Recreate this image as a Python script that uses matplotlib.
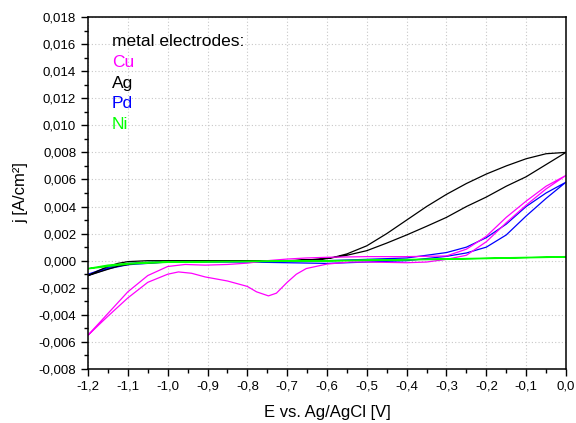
import matplotlib.pyplot as plt
from matplotlib.ticker import MultipleLocator, FuncFormatter

plt.rcParams['font.family'] = 'Liberation Sans'
plt.rcParams['axes.unicode_minus'] = False

# Cu: forward sweep (E increasing) and reverse sweep (E decreasing, with the reduction dip)
cu_fwd_E = [-1.2, -1.15, -1.1, -1.05, -1.0, -0.956, -0.906, -0.85, -0.8, -0.75, -0.7, -0.652,
            -0.6, -0.5, -0.4, -0.3, -0.25, -0.2, -0.15, -0.1, -0.05, 0.0]
cu_fwd_j = [-0.0055, -0.0039, -0.0023, -0.0011, -0.00043, -0.00028, -0.00033, -0.00028, -0.00018,
            0.0, 0.00012, 0.0002, 0.00025, 0.0003, 0.0003, 0.00035, 0.00085, 0.0018, 0.0032,
            0.0044, 0.0055, 0.0063]
cu_rev_E = [0.0, -0.05, -0.1, -0.15, -0.2, -0.25, -0.3, -0.35, -0.4, -0.5, -0.542, -0.6, -0.652,
            -0.677, -0.7, -0.727, -0.747, -0.777, -0.8, -0.85, -0.906, -0.94, -0.973, -1.0,
            -1.05, -1.1, -1.15, -1.2]
cu_rev_j = [0.0063, 0.0053, 0.0041, 0.0028, 0.0014, 0.0004, 0.0001, -0.0001, -0.00015, -0.0001,
            -0.0001, -0.00025, -0.00058, -0.001, -0.0016, -0.0024, -0.0026, -0.0023, -0.0019,
            -0.0015, -0.0012, -0.00093, -0.00083, -0.001, -0.0016, -0.00275, -0.0041, -0.0055]

# Ag
ag_fwd_E = [-1.2, -1.175, -1.15, -1.125, -1.1, -1.05, -1.0, -0.9, -0.8, -0.7, -0.62, -0.583, -0.55,
            -0.5, -0.45, -0.4, -0.35, -0.3, -0.25, -0.2, -0.15, -0.1, -0.05, 0.0]
ag_fwd_j = [-0.0011, -0.00075, -0.00043, -0.0002, -0.00007, 0.0, 0.0, 0.0, 0.0, 0.0, 0.0001,
            0.00025, 0.0005, 0.0011, 0.002, 0.003, 0.004, 0.0049, 0.0057, 0.0064, 0.007,
            0.00753, 0.0079, 0.008]
ag_rev_E = [0.0, -0.05, -0.1, -0.15, -0.2, -0.25, -0.3, -0.35, -0.4, -0.45, -0.5, -0.55, -0.6,
            -0.7, -0.8, -0.9, -1.0, -1.08, -1.124, -1.157, -1.2]
ag_rev_j = [0.008, 0.0071, 0.0062, 0.0055, 0.0047, 0.004, 0.0032, 0.00254, 0.0019, 0.0013, 0.00074,
            0.0004, 0.00015, -0.00003, -0.00005, -0.00005, -0.0001, -0.0002, -0.0004, -0.0007,
            -0.0011]

# Pd
pd_fwd_E = [-1.2, -1.15, -1.1, -1.0, -0.8, -0.6, -0.5, -0.4, -0.3, -0.25, -0.2, -0.15, -0.1,
            -0.05, 0.0]
pd_fwd_j = [-0.0010, -0.0005, -0.0002, -0.00005, 0.0, 0.0, 0.0001, 0.0002, 0.0006, 0.001, 0.0017,
            0.0027, 0.004, 0.005, 0.0058]
pd_rev_E = [0.0, -0.05, -0.1, -0.15, -0.2, -0.25, -0.3, -0.4, -0.5, -0.6, -0.8, -1.0, -1.1,
            -1.15, -1.2]
pd_rev_j = [0.0058, 0.0046, 0.0033, 0.0019, 0.001, 0.00057, 0.00032, 0.0, -0.0001, -0.0002,
            -0.0001, -0.0001, -0.0003, -0.0006, -0.0011]

# Ni
ni_fwd_E = [-1.2, -1.15, -1.1, -1.05, -1.0, -0.8, -0.6, -0.3, 0.0]
ni_fwd_j = [-0.00058, -0.00033, -0.0002, -0.00012, -0.00008, -0.00004, 0.0, 0.00013, 0.0003]
ni_rev_E = [0.0, -0.3, -0.6, -1.0, -1.1, -1.2]
ni_rev_j = [0.00027, 0.0001, -0.00002, -0.00012, -0.00025, -0.0006]

fig = plt.figure(figsize=(5.76, 4.23), dpi=100)
ax = fig.add_axes([0.1528, 0.1277, 0.8298, 0.8321])

ax.plot(pd_fwd_E + pd_rev_E, pd_fwd_j + pd_rev_j, color='#0000ff', lw=0.9)
ax.plot(ag_fwd_E + ag_rev_E, ag_fwd_j + ag_rev_j, color='black', lw=0.9)
ax.plot(cu_fwd_E + cu_rev_E, cu_fwd_j + cu_rev_j, color='#ff00ff', lw=0.9)
ax.plot(ni_fwd_E + ni_rev_E, ni_fwd_j + ni_rev_j, color='#00ff00', lw=1.0)

ax.set_xlim(-1.2, 0.0)
ax.set_ylim(-0.008, 0.018)
ax.xaxis.set_major_locator(MultipleLocator(0.1))
ax.xaxis.set_minor_locator(MultipleLocator(0.05))
ax.yaxis.set_major_locator(MultipleLocator(0.002))
ax.yaxis.set_minor_locator(MultipleLocator(0.001))
ax.xaxis.set_major_formatter(FuncFormatter(lambda v, p: ('%.1f' % v).replace('-0.0', '0.0').replace('.', ',')))
ax.yaxis.set_major_formatter(FuncFormatter(lambda v, p: ('%.3f' % v).replace('-0.000', '0.000').replace('.', ',')))
ax.tick_params(which='major', direction='out', length=5, width=1, labelsize=9.5)
ax.tick_params(which='minor', direction='out', length=3, width=1)
ax.grid(True, which='major', color='#c8c8c8', linestyle=(0, (1, 2)), lw=0.8)
for s in ax.spines.values():
    s.set_linewidth(1.1)

ax.set_xlabel('E vs. Ag/AgCl [V]', fontsize=12, labelpad=9)
ax.set_ylabel('j [A/cm²]', fontsize=12, labelpad=7)

ax.text(0.05, 0.929, 'metal electrodes:', transform=ax.transAxes, fontsize=12.5, va='center')
labels = ['Cu', 'Ag', 'Pd', 'Ni']
colors = ['#ff00ff', 'black', '#0000ff', '#00ff00']
for i, (lab, c) in enumerate(zip(labels, colors)):
    ax.text(0.05, 0.871 - i * 0.059, lab, transform=ax.transAxes, fontsize=12.5, va='center', color=c)

plt.savefig('out.png')
